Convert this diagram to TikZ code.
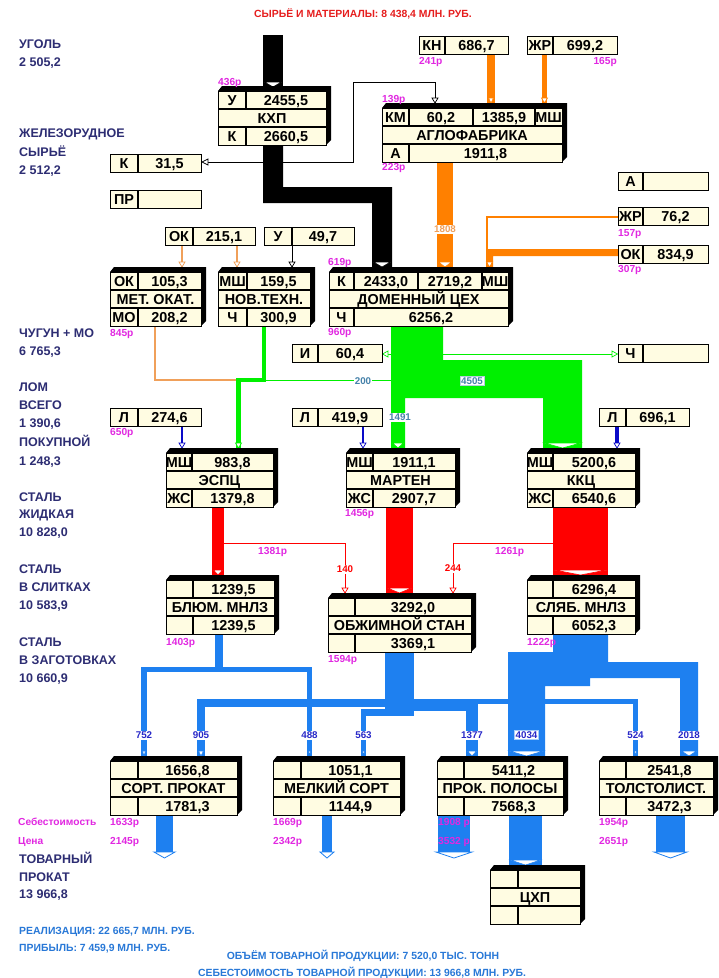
\documentclass[tikz,border=0pt]{standalone}
\usepackage{fontspec}
\setmainfont{Liberation Sans}
\definecolor{cream}{RGB}{255,252,226}
\definecolor{cfo}{RGB}{255,128,0}
\definecolor{cfol}{RGB}{240,160,90}
\definecolor{cfg}{RGB}{0,240,0}
\definecolor{cfr}{RGB}{255,0,0}
\definecolor{cfb}{RGB}{30,128,240}
\definecolor{cdb}{RGB}{10,10,200}
\definecolor{cmg}{RGB}{225,40,225}
\definecolor{cnavy}{RGB}{45,45,115}
\definecolor{clb}{RGB}{40,120,215}
\definecolor{ctea}{RGB}{70,130,170}
\definecolor{ctred}{RGB}{230,30,30}
\definecolor{cfl}{RGB}{40,40,200}
\tikzset{
 bt/.style={font=\fontsize{14.4}{14}\selectfont\bfseries, inner sep=0pt, text height=10.3pt, text depth=0pt},
 lab/.style={font=\fontsize{12.5}{12}\selectfont\bfseries, text=cnavy, anchor=west, inner sep=0pt, text height=9pt, text depth=0pt},
 mgt/.style={font=\fontsize{10.2}{10}\selectfont\bfseries, text=cmg, anchor=west, inner sep=0pt, text height=7.3pt, text depth=0pt},
 flt/.style={font=\fontsize{9.8}{10}\selectfont\bfseries, fill=white, inner sep=1pt, text height=7pt, text depth=0pt},
 bot/.style={font=\fontsize{10.4}{10}\selectfont\bfseries, text=clb, inner sep=0pt, text height=7.5pt, text depth=0pt},
 face/.style={draw=black, fill=cream, line width=1.3pt, inner sep=0pt, anchor=north west},
}
% 3D box: name, x0, y0, x1, col
\newcommand\tdbox[5]{%
  \gdef\bxa{#2}\gdef\bya{#3}\gdef\bxb{#4}\gdef\bcol{#5}%
  \fill[black] (#2,#3) -- (#2+4,#3-5) -- (#4+5,#3-5) -- (#4+5,#3+49) -- (#4,#3+54) -- cycle;
  \node[face, minimum width={#4-#2}, minimum height=54] (#1) at (#2,#3) {};
  \draw[line width=1.1pt] (#2,#3+18) -- (#4,#3+18) (#2,#3+36) -- (#4,#3+36)
     (#5,#3) -- (#5,#3+18) (#5,#3+36) -- (#5,#3+54);
}
\newcommand\tdtext[5]{%
  \node[bt] at ({(\bxa+\bcol)/2},\bya+9) {#1};
  \node[bt] at ({(\bcol+\bxb)/2},\bya+9) {#2};
  \node[bt] at ({(\bxa+\bxb)/2},\bya+27) {#3};
  \node[bt] at ({(\bxa+\bcol)/2},\bya+45) {#4};
  \node[bt] at ({(\bcol+\bxb)/2},\bya+45) {#5};
}
% simple box: name x0 y0 x1 col label value
\newcommand\smbox[7]{%
  \node[face, line width=1.4pt, minimum width={#4-#2}, minimum height=18] (#1) at (#2,#3) {};
  \draw[line width=1.1pt] (#5,#3) -- (#5,#3+18);
  \node[bt] at ({(#2+#5)/2},#3+9) {#6};
  \node[bt] at ({(#5+#4)/2},#3+9) {#7};
}
% arrowhead at end of thick bar: xl xr yend colour
\newcommand\inarr[4]{%
  \filldraw[fill=white, draw=#4, line width=0.6pt] (#1+1.5,#3-5) -- (#2-1.5,#3-5) -- ({(#1+#2)/2},#3) -- cycle;}
% small arrowhead of thin line: x yend colour
\newcommand\tharr[3]{%
  \filldraw[fill=white, draw=#3, line width=0.7pt] (#1-3,#2-5) -- (#1+3,#2-5) -- (#1,#2) -- cycle;}
% output chevron: xl xr y
\newcommand\outarr[3]{%
  \filldraw[fill=white, draw=cfb, line width=0.8pt] (#1-2,#3) -- (#2+2,#3) -- ({(#1+#2)/2},#3+6) -- cycle;}
\begin{document}
\begin{tikzpicture}[x=1pt,y=-1pt]
\useasboundingbox (0,0) rectangle (719,978);
\fill[white] (0,0) rectangle (719,978);

% ---------------- flows: black
\fill[black] (263,35) rectangle (283,87);
\fill[black] (263,145) -- (283,145) -- (283,187) -- (392,187) -- (392,267) -- (372,267) -- (372,203) -- (263,203) -- cycle;
\draw[line width=0.8pt] (208,162) -- (353,162) -- (353,82) -- (435,82) -- (435,103);
\draw[line width=0.8pt] (292,244) -- (292,267);
% orange
\fill[cfo] (487,53) rectangle (495,103);
\fill[cfo] (542,53) rectangle (547,103);
\fill[cfo] (437,162) rectangle (453,267);
\draw[cfo, line width=1.2pt] (618,217) -- (487,217) -- (487,250);
\fill[cfo] (618,249) -- (618,256) -- (493,256) -- (493,267) -- (486,267) -- (486,249) -- cycle;
\draw[cfol, line width=1.2pt] (182,244) -- (182,267);
\draw[cfol, line width=1.2pt] (237,244) -- (237,267);
\draw[cfol, line width=1.6pt] (155,326) -- (155,380) -- (238,380);
% green
\fill[cfg] (391,326) -- (443,326) -- (443,360) -- (582,360) -- (582,448) -- (543,448) -- (543,398) -- (405,398) -- (405,448) -- (391,448) -- cycle;
\fill[cfg] (262,326) rectangle (266,382);
\fill[cfg] (236,378) rectangle (266,382);
\fill[cfg] (236,378) rectangle (241,448);
\draw[cfg, line width=1pt] (391,380.5) -- (266,380.5);
\draw[cfg, line width=1pt] (391,354) -- (388,354);
\draw[cfg, line width=1pt] (443,354) -- (612,354);
% red
\fill[cfr] (212,507) rectangle (224,575);
\draw[cfr, line width=1pt] (224,543) -- (345,543) -- (345,593);
\fill[cfr] (386,507) rectangle (413,593);
\fill[cfr] (553,507) rectangle (608,575);
\draw[cfr, line width=1pt] (553,543) -- (453,543) -- (453,593);
% dark blue scrap
\draw[cdb, line width=2.5pt] (182,426) -- (182,446);
\draw[cdb, line width=2.5pt] (363,426) -- (363,446);
\draw[cdb, line width=3.5pt] (617,426) -- (617,446);
% blue flows
\fill[cfb] (215,633) rectangle (223,672);
\fill[cfb] (141,667) rectangle (312,672);
\fill[cfb] (141,667) rectangle (147,756);
\fill[cfb] (307,667) rectangle (312,756);
\fill[cfb] (385,652) rectangle (414,716);
\fill[cfb] (197,699) rectangle (385,707);
\fill[cfb] (197,699) rectangle (205,756);
\fill[cfb] (361,709) rectangle (385,716);
\fill[cfb] (361,709) rectangle (366,756);
\fill[cfb] (414,699) rectangle (478,711);
\fill[cfb] (466,699) rectangle (478,756);
\fill[cfb] (478,699) rectangle (638,704);
\fill[cfb] (633,699) rectangle (638,756);
\fill[cfb] (553,633) -- (608,633) -- (608,662) -- (698,662) -- (698,756) -- (680,756) -- (680,678) -- (590,678) -- (590,686) -- (545,686) -- (545,756) -- (508,756) -- (508,652) -- (553,652) -- cycle;
% outputs
\fill[cfb] (156,815) rectangle (173,852);
\fill[cfb] (322,815) rectangle (332,852);
\fill[cfb] (438,815) rectangle (470,852);
\fill[cfb] (656,815) rectangle (685,852);
\fill[cfb] (509,815) rectangle (542,865);
\outarr{156}{173}{852}
\outarr{322}{332}{852}
\outarr{438}{470}{852}
\outarr{656}{685}{852}

% ---------------- arrowheads
\inarr{263}{283}{87}{black}
\inarr{372}{392}{267}{black}
\tharr{435}{103}{black}
\tharr{292}{267}{black}
\filldraw[fill=white, draw=black, line width=0.7pt] (208,159) -- (208,165) -- (202,162) -- cycle;
\inarr{487}{495}{103}{cfo}
\tharr{544.5}{103}{cfo}
\inarr{437}{453}{267}{cfo}
\tharr{489.5}{267}{cfo}
\tharr{182}{267}{cfol}
\tharr{237}{267}{cfol}
\inarr{391}{405}{448}{cfg}
\inarr{543}{582}{448}{cfg}
\tharr{238.5}{448}{cfg}
\filldraw[fill=white, draw=cfg, line width=0.7pt] (388,351) -- (388,357) -- (382.5,354) -- cycle;
\filldraw[fill=white, draw=cfg, line width=0.7pt] (612,351) -- (612,357) -- (617.5,354) -- cycle;
\inarr{212}{224}{575}{cfr}
\inarr{386}{413}{593}{cfr}
\inarr{553}{608}{575}{cfr}
\tharr{345}{593}{cfr}
\tharr{453}{593}{cfr}
\tharr{182}{448}{cdb}
\tharr{363}{448}{cdb}
\tharr{617}{448}{cdb}
\inarr{141}{147}{756}{cfb}
\inarr{197}{205}{756}{cfb}
\inarr{307}{312}{756}{cfb}
\inarr{361}{366}{756}{cfb}
\inarr{466}{478}{756}{cfb}
\inarr{508}{545}{756}{cfb}
\inarr{633}{638}{756}{cfb}
\inarr{680}{698}{756}{cfb}
\inarr{509}{542}{865}{cfb}

% ---------------- 3D boxes
\tdbox{kxp}{218}{91}{326}{246}
\tdtext{У}{2455,5}{КХП}{К}{2660,5}
\tdbox{aglo}{382}{108}{562}{409}
\draw[line width=1.1pt] (473,108) -- (473,126) (535,108) -- (535,126);
\node[bt] at (395.5,117) {КМ};
\node[bt] at (441,117) {60,2};
\node[bt] at (504,117) {1385,9};
\node[bt] at (548.5,117) {МШ};
\node[bt] at (472,135) {АГЛОФАБРИКА};
\node[bt] at (395.5,153) {А};
\node[bt] at (485.5,153) {1911,8};
\tdbox{dom}{329}{272}{508}{354}
\draw[line width=1.1pt] (418,272) -- (418,290) (482,272) -- (482,290);
\node[bt] at (341.5,281) {К};
\node[bt] at (386,281) {2433,0};
\node[bt] at (450,281) {2719,2};
\node[bt] at (495,281) {МШ};
\node[bt] at (418.5,299) {ДОМЕННЫЙ ЦЕХ};
\node[bt] at (341.5,317) {Ч};
\node[bt] at (431,317) {6256,2};
\tdbox{metok}{110}{272}{201}{138}
\tdtext{ОК}{105,3}{МЕТ. ОКАТ.}{МО}{208,2}
\tdbox{novt}{218}{272}{310}{247}
\tdtext{МШ}{159,5}{НОВ.ТЕХН.}{Ч}{300,9}
\tdbox{espc}{166}{453}{273}{192}
\tdtext{МШ}{983,8}{ЭСПЦ}{ЖС}{1379,8}
\tdbox{mart}{346}{453}{455}{373}
\tdtext{МШ}{1911,1}{МАРТЕН}{ЖС}{2907,7}
\tdbox{kkc}{527}{453}{635}{553}
\tdtext{МШ}{5200,6}{ККЦ}{ЖС}{6540,6}
\tdbox{blum}{166}{580}{274}{193}
\tdtext{}{1239,5}{БЛЮМ. МНЛЗ}{}{1239,5}
\tdbox{obzh}{328}{598}{471}{355}
\tdtext{}{3292,0}{ОБЖИМНОЙ СТАН}{}{3369,1}
\tdbox{slyab}{527}{580}{635}{553}
\tdtext{}{6296,4}{СЛЯБ. МНЛЗ}{}{6052,3}
\tdbox{sort}{110}{761}{237}{138}
\tdtext{}{1656,8}{СОРТ. ПРОКАТ}{}{1781,3}
\tdbox{melk}{273}{761}{400}{301}
\tdtext{}{1051,1}{МЕЛКИЙ СОРТ}{}{1144,9}
\tdbox{polos}{437}{761}{563}{464}
\tdtext{}{5411,2}{ПРОК. ПОЛОСЫ}{}{7568,3}
\tdbox{tolst}{599}{761}{713}{626}
\tdtext{}{2541,8}{ТОЛСТОЛИСТ.}{}{3472,3}
\tdbox{cxp}{490}{870}{580}{518}
\tdtext{}{}{ЦХП}{}{}

% ---------------- simple boxes
\smbox{kn}{419}{36}{508}{445}{КН}{686,7}
\smbox{zhr}{527}{36}{617}{553}{ЖР}{699,2}
\smbox{abox}{618}{172}{708}{643}{А}{}
\smbox{zhrb}{618}{207}{708}{643}{ЖР}{76,2}
\smbox{okb}{618}{245}{708}{643}{ОК}{834,9}
\smbox{kbox}{110}{154}{201}{138}{К}{31,5}
\smbox{prbox}{110}{190}{201}{138}{ПР}{}
\smbox{oka}{165}{227}{255}{193}{ОК}{215,1}
\smbox{ubox}{264}{227}{354}{292}{У}{49,7}
\smbox{ibox}{292}{344}{382}{318}{И}{60,4}
\smbox{chbox}{618}{344}{708}{643}{Ч}{}
\smbox{la}{110}{408}{201}{138}{Л}{274,6}
\smbox{lb}{292}{408}{382}{318}{Л}{419,9}
\smbox{lc}{599}{408}{689}{626}{Л}{696,1}

% ---------------- flow labels
\node[flt, text=cfol] at (445,229) {1808};
\node[flt, text=ctea] at (363,381) {200};
\node[flt, text=ctea, draw=ctea!40, line width=0.4pt] at (472,381) {4505};
\node[flt, text=ctea] at (400,417) {1491};
\node[flt, text=cfr] at (345,569) {140};
\node[flt, text=cfr] at (453,568) {244};
\node[flt, text=cfl] at (144,735) {752};
\node[flt, text=cfl] at (201,735) {905};
\node[flt, text=cfl] at (309.5,735) {488};
\node[flt, text=cfl] at (363.5,735) {563};
\node[flt, text=cfl] at (472,735) {1377};
\node[flt, text=cfl, draw=cfb!40, line width=0.4pt] at (526.5,735) {4034};
\node[flt, text=cfl] at (635.5,735) {524};
\node[flt, text=cfl] at (689,735) {2018};

% ---------------- magenta numbers
\node[mgt] at (218,82) {436р};
\node[mgt] at (419,61) {241р};
\node[mgt, anchor=east] at (617,61) {165р};
\node[mgt] at (382,99) {139р};
\node[mgt] at (382,167) {223р};
\node[mgt] at (618,233) {157р};
\node[mgt] at (618,269) {307р};
\node[mgt] at (328,262) {619р};
\node[mgt] at (328,332) {960р};
\node[mgt] at (110,333) {845р};
\node[mgt] at (110,432) {650р};
\node[mgt] at (345,513) {1456р};
\node[mgt] at (258,551) {1381р};
\node[mgt] at (495,551) {1261р};
\node[mgt] at (166,642) {1403р};
\node[mgt] at (328,659) {1594р};
\node[mgt] at (527,642) {1222р};
\node[mgt] at (18,822) {Себестоимость};
\node[mgt] at (18,841) {Цена};
\node[mgt] at (110,822) {1633р};
\node[mgt] at (110,841) {2145р};
\node[mgt] at (273,822) {1669р};
\node[mgt] at (273,841) {2342р};
\node[mgt] at (438,822) {1908 р};
\node[mgt] at (438,841) {3532 р};
\node[mgt] at (599,822) {1954р};
\node[mgt] at (599,841) {2651р};

% ---------------- left labels
\node[lab] at (19,44) {УГОЛЬ};
\node[lab] at (19,62) {2 505,2};
\node[lab] at (19,133) {ЖЕЛЕЗОРУДНОЕ};
\node[lab] at (19,152) {СЫРЬЁ};
\node[lab] at (19,170) {2 512,2};
\node[lab] at (19,333) {ЧУГУН + МО};
\node[lab] at (19,351) {6 765,3};
\node[lab] at (19,387) {ЛОМ};
\node[lab] at (19,405) {ВСЕГО};
\node[lab] at (19,423) {1 390,6};
\node[lab] at (19,442) {ПОКУПНОЙ};
\node[lab] at (19,461) {1 248,3};
\node[lab] at (19,497) {СТАЛЬ};
\node[lab] at (19,514) {ЖИДКАЯ};
\node[lab] at (19,532) {10 828,0};
\node[lab] at (19,569) {СТАЛЬ};
\node[lab] at (19,587) {В СЛИТКАХ};
\node[lab] at (19,605) {10 583,9};
\node[lab] at (19,642) {СТАЛЬ};
\node[lab] at (19,660) {В ЗАГОТОВКАХ};
\node[lab] at (19,678) {10 660,9};
\node[lab] at (19,859) {ТОВАРНЫЙ};
\node[lab] at (19,877) {ПРОКАТ};
\node[lab] at (19,894) {13 966,8};

% ---------------- titles
\node[bot, text=ctred] at (363,14) {СЫРЬЁ И МАТЕРИАЛЫ: 8 438,4 МЛН. РУБ.};
\node[bot, anchor=west] at (19,931) {РЕАЛИЗАЦИЯ: 22 665,7 МЛН. РУБ.};
\node[bot, anchor=west] at (19,948) {ПРИБЫЛЬ: 7 459,9 МЛН. РУБ.};
\node[bot] at (363,956) {ОБЪЁМ ТОВАРНОЙ ПРОДУКЦИИ: 7 520,0 ТЫС. ТОНН};
\node[bot] at (362,973) {СЕБЕСТОИМОСТЬ ТОВАРНОЙ ПРОДУКЦИИ: 13 966,8 МЛН. РУБ.};
\end{tikzpicture}
\end{document}
